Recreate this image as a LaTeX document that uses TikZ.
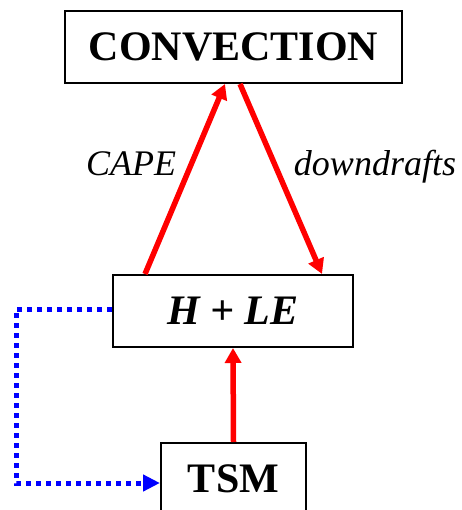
\documentclass[tikz,border=0pt]{standalone}
\usepackage{fontspec}
\setmainfont{Liberation Serif}
\usetikzlibrary{arrows.meta,positioning}
\definecolor{loopRed}{HTML}{FF0000}
\definecolor{loopBlue}{HTML}{0000FF}
\tikzset{
  varbox/.style={draw=black,line width=2pt,minimum height=72pt,align=center,
    inner sep=0pt,font=\fontsize{42}{50}\selectfont\bfseries},
  couple/.style={-{Triangle[length=15pt,width=16pt]},line width=5.5pt,loopRed},
  feedback/.style={-{Triangle[length=17pt,width=16pt]},line width=5pt,loopBlue,
    dash pattern=on 5pt off 5pt},
  tag/.style={font=\fontsize{36}{42}\selectfont\itshape,anchor=base,inner sep=0pt}
}
\begin{document}
\begin{tikzpicture}[x=1pt,y=-1pt]
  \useasboundingbox (0,0) rectangle (461,510);
  \node[varbox,minimum width=337pt] (conv) at (233.5,47) {CONVECTION};
  \node[varbox,minimum width=240pt] (hle) at (233,311) {\itshape H + LE};
  \node[varbox,minimum width=145pt] (tsm) at (233.5,479) {TSM};
  \draw[couple] ([xshift=-88pt]hle.north) -- ([xshift=-8.5pt]conv.south);
  \draw[couple] ([xshift=6.5pt]conv.south) -- ([xshift=89pt]hle.north);
  \draw[couple] (tsm.north) -- (hle.south);
  \draw[feedback] ([yshift=2pt]hle.west) -- ++(-96,0) |- ([yshift=-4pt]tsm.west);
  \node[tag] (cape) at (131,176) {CAPE};
  \node[tag] (down) at (375,176) {downdrafts};
\end{tikzpicture}
\end{document}
